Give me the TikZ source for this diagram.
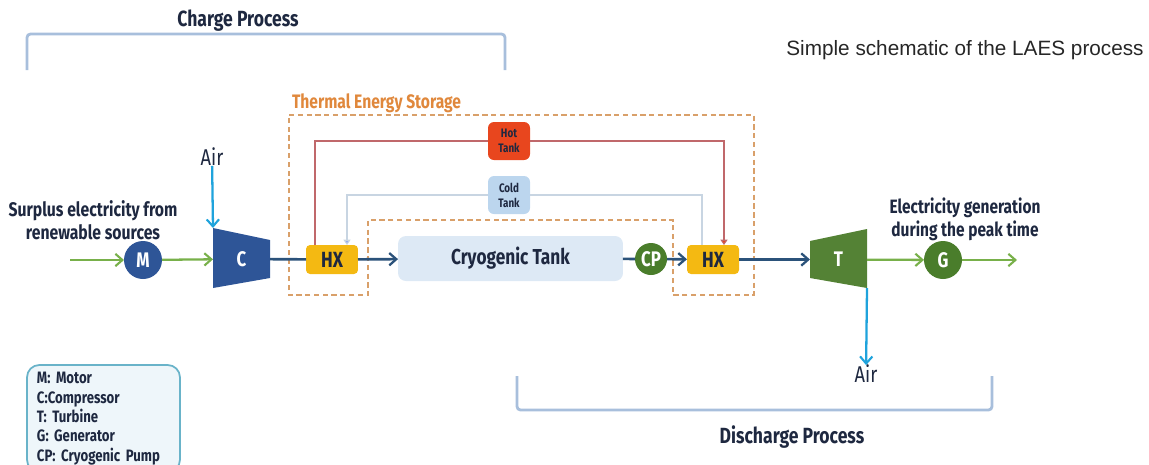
\documentclass[tikz,border=0pt]{standalone}
\usepackage{fontspec}
\setmainfont{Liberation Sans}
\newfontfamily\dinfont[FakeStretch=0.8]{Fira Sans}
\usepackage{tikz}
\usetikzlibrary{positioning, arrows.meta, calc}

\definecolor{navytext}{HTML}{1E2840}
\definecolor{bracketblue}{HTML}{A8BFDC}
\definecolor{tesorange}{HTML}{E0883C}
\definecolor{tesdash}{HTML}{D9A06A}
\definecolor{hotred}{HTML}{E8461E}
\definecolor{hotline}{HTML}{C0686B}
\definecolor{coldfill}{HTML}{BCD6EE}
\definecolor{coldline}{HTML}{C8D5E2}
\definecolor{hxyellow}{HTML}{F4B912}
\definecolor{cryofill}{HTML}{DDE9F5}
\definecolor{cpgreen}{HTML}{4A7D2B}
\definecolor{tgreen}{HTML}{548235}
\definecolor{flowblue}{HTML}{2B527A}
\definecolor{elecgreen}{HTML}{78B04A}
\definecolor{airblue}{HTML}{1FA3DC}
\definecolor{cblue}{HTML}{2E5597}
\definecolor{legendline}{HTML}{69B3C9}
\definecolor{legendfill}{HTML}{EEF6FA}

\begin{document}
\begin{tikzpicture}[
    x=0.02cm, y=-0.02cm,
    every node/.style={font=\dinfont\bfseries\small, text=navytext, inner sep=0pt, outer sep=0pt},
    hx/.style={fill=hxyellow, rounded corners=2.3pt, minimum width=1.04cm, minimum height=0.58cm, font=\dinfont\bfseries\fontsize{12.5}{14}\selectfont},
    tank/.style={rounded corners=3.4pt, minimum width=0.84cm, minimum height=0.76cm, align=center, font=\dinfont\bfseries\fontsize{7}{8.5}\selectfont},
    machine/.style={circle, minimum size=0.76cm, text=white, font=\dinfont\bfseries\fontsize{12}{14}\selectfont},
    turbo/.style={minimum width=1.14cm, minimum height=0.74cm, text=white, font=\dinfont\bfseries\fontsize{12}{14}\selectfont},
    flow/.style={draw=flowblue, line width=1.5pt},
    flowarrow/.style={flow, -{Straight Barb[length=4pt, width=7pt, line width=1.3pt]}},
    elec/.style={draw=elecgreen, line width=1.3pt, -{Straight Barb[length=4pt, width=7pt, line width=1.2pt]}},
    air/.style={draw=airblue, line width=1.3pt, -{Straight Barb[length=4pt, width=7pt, line width=1.2pt]}},
    bracket/.style={draw=bracketblue, line width=1.6pt, rounded corners=2pt},
    hotpipe/.style={draw=hotline, line width=0.6pt},
    coldpipe/.style={draw=coldline, line width=0.6pt}
]
\useasboundingbox (0,0) rectangle (1149,464);
\clip (0,0) rectangle (1149,464);

% process brackets
\draw[bracket] (27,70) -- (27,34) -- (505,34) -- (505,70);
\node[font=\dinfont\bfseries\fontsize{12.5}{14}\selectfont] (charge) at (238,21) {Charge Process};
\draw[bracket] (517,376) -- (517,410) -- (992,410) -- (992,376);
\node[font=\dinfont\bfseries\fontsize{12.5}{14}\selectfont] (discharge) at (792,437) {Discharge Process};

\node[font=\rmfamily\fontsize{11.8}{14}\selectfont, text=black!85] (title) at (965,50) {Simple schematic of the LAES process};

% thermal energy storage
\draw[tesdash, line width=0.9pt, dash pattern=on 3pt off 2pt]
    (289,115) -- (754,115) -- (754,295) -- (673,295) -- (673,220)
    -- (368,220) -- (368,295) -- (289,295) -- cycle;
\node[anchor=west, text=tesorange, font=\dinfont\bfseries\fontsize{11.1}{13}\selectfont] (teslabel) at (292,103) {Thermal Energy Storage};

% charge side
\node[machine, fill=cblue] (M) at (143,260) {M};
\coordinate (elin) at (70,260);
\node[align=center, font=\dinfont\bfseries\fontsize{11.2}{13}\selectfont] (surplus) at (93,220) {Surplus electricity from\\renewable sources};
\fill[cblue] (213,228) -- (270,240) -- (270,278) -- (213,288) -- cycle;
\node[turbo] (C) at (241.5,259) {C};
\coordinate (Cin) at (213,228);
\node[font=\dinfont\fontsize{13}{15}\selectfont] (airC) at (212,157) {Air};

\draw[elec] (elin) -- (M);
\draw[elec] (M) -- (C);
\draw[air] (airC) -- (Cin);

% storage
\node[hx] (HX1) at (332,259.5) {HX};
\node[fill=cryofill, rounded corners=4.5pt, minimum width=4.5cm, minimum height=0.9cm, font=\dinfont\bfseries\fontsize{12.3}{14}\selectfont] (cryo) at (510.5,258.5) {Cryogenic Tank};
\node[circle, fill=cpgreen, minimum size=0.64cm, text=white, font=\dinfont\bfseries\fontsize{12}{14}\selectfont] (CP) at (651,259) {CP};
\node[hx] (HX2) at (713,259.5) {HX};
\node[tank, fill=hotred] (hot) at (509,141) {Hot\\Tank};
\node[tank, fill=coldfill] (cold) at (509,195) {Cold\\Tank};

\draw[flow] (C) -- (HX1);
\draw[flowarrow] (HX1) -- (cryo);
\draw[flow] (cryo) -- (CP);
\draw[flowarrow] (CP) -- (HX2);

\draw[hotpipe] ($(HX1.north)+(-17,0)$) |- (hot.west);
\draw[hotpipe, -{Triangle[length=3pt, width=4pt, fill=hotred]}] (hot.east) -| ($(HX2.north)+(11,0)$);
\draw[coldpipe, -{Triangle[length=3pt, width=4pt, fill=coldfill!80!blue]}] (cold.west) -| ($(HX1.north)+(15,0)$);
\draw[coldpipe] ($(HX2.north)+(-11,0)$) |- (cold.east);

% discharge side
\fill[tgreen] (810,241) -- (867,229) -- (867,288) -- (810,278) -- cycle;
\node[turbo] (T) at (838.5,259.5) {T};
\coordinate (Tout) at (867,288);
\node[font=\dinfont\fontsize{13}{15}\selectfont] (airT) at (866,374) {Air};
\node[machine, fill=cpgreen] (G) at (943,260) {G};
\coordinate (elout) at (1017,260);
\node[align=center, font=\dinfont\bfseries\fontsize{11}{13}\selectfont] (peak) at (965,219) {Electricity generation\\during the peak time};

\draw[flowarrow] (HX2) -- (T);
\draw[air] (Tout) -- (airT);
\draw[elec] (T) -- (G);
\draw[elec] (G) -- (elout);

% legend
\node[draw=legendline, fill=legendfill, line width=1pt, rounded corners=7pt, anchor=north west,
      minimum width=3.06cm, minimum height=2.14cm, text width=2.66cm, align=left,
      font=\dinfont\bfseries\fontsize{9.4}{11}\selectfont] (legend) at (27,365)
    {M: Motor\\C:Compressor\\T: Turbine\\G: Generator\\CP: Cryogenic Pump};

\end{tikzpicture}
\end{document}
